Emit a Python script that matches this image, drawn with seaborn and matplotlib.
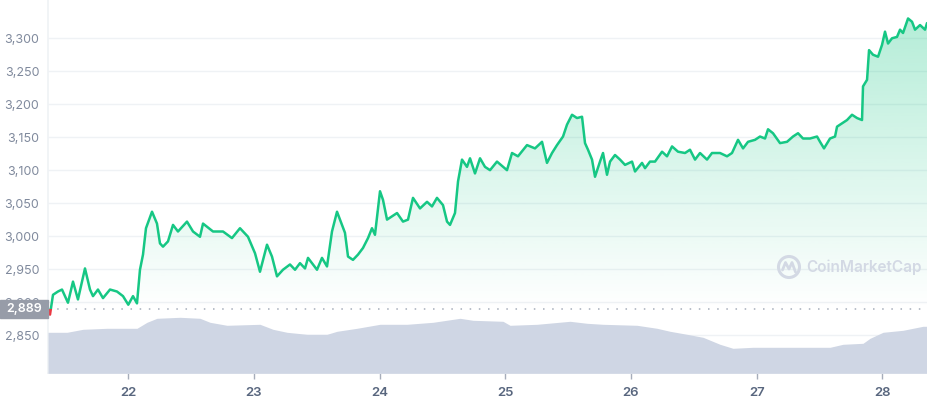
import numpy as np
import pandas as pd
import seaborn as sns
import matplotlib.pyplot as plt
from matplotlib.patches import Rectangle, Circle
from matplotlib.transforms import blended_transform_factory

# hours counted from 21 Mar 00:00, price in USD
hours = [8.72, 9.05, 9.62, 10.57, 11.34, 12.48, 13.44, 14.39, 15.73, 16.69, 17.26, 18.21,
         19.17, 20.51, 21.84, 22.99, 24.0, 24.9, 25.66, 26.23, 26.81, 27.38, 28.53, 29.48,
         30.05, 30.63, 31.58, 32.54, 33.49, 35.21, 36.36, 37.69, 38.27, 40.18, 42.09, 43.8,
         45.33, 46.86, 48.2, 49.15, 50.49, 51.44, 52.4, 53.54, 54.88, 55.84, 56.79, 57.75,
         58.32, 60.04, 60.99, 61.95, 62.9, 63.86, 64.43, 65.38, 65.96, 66.91, 67.87, 68.82,
         69.78, 70.54, 71.11, 72.07, 72.64, 73.41, 74.36, 75.32, 76.46, 77.42, 78.37, 79.71,
         81.05, 82.0, 82.95, 84.1, 84.87, 85.44, 86.39, 86.97, 87.73, 88.68, 89.26, 90.21,
         91.17, 92.12, 93.08, 94.41, 96.32, 97.28, 98.42, 100.14, 101.67, 103.01, 103.96,
         104.92, 105.87, 107.02, 107.78, 108.74, 109.69, 110.65, 111.22, 111.79, 112.56,
         113.13, 114.08, 114.66, 115.42, 116.0, 116.95, 117.91, 118.86, 120.2, 120.77,
         122.11, 122.68, 123.63, 124.59, 125.93, 126.88, 127.84, 128.98, 130.32, 131.27,
         132.23, 133.18, 134.52, 135.47, 137.0, 138.34, 139.29, 140.44, 141.4, 142.35,
         143.69, 144.64, 145.6, 146.17, 147.12, 148.46, 149.8, 150.94, 151.9, 152.85,
         154.19, 155.53, 156.1, 156.86, 158.01, 158.97, 159.35, 160.3, 161.26, 162.21,
         163.17, 164.12, 164.31, 165.08, 165.46, 166.22, 167.18, 167.94, 168.51, 169.09,
         169.85, 170.8, 171.38, 171.95, 172.91, 173.67, 174.24, 175.2, 176.15, 176.53]
price = [2889, 2881, 2911, 2916, 2919, 2899, 2931, 2904, 2951, 2919, 2909, 2919,
         2906, 2919, 2916, 2909, 2896, 2909, 2898, 2949, 2972, 3012, 3037, 3019,
         2989, 2984, 2992, 3017, 3007, 3022, 3007, 2999, 3019, 3007, 3007, 2997,
         3012, 2999, 2974, 2946, 2987, 2969, 2939, 2949, 2957, 2949, 2959, 2951,
         2967, 2949, 2967, 2954, 3007, 3037, 3025, 3005, 2969, 2964, 2972, 2982,
         2997, 3012, 3002, 3068, 3055, 3025, 3030, 3035, 3022, 3025, 3058, 3042,
         3052, 3045, 3058, 3047, 3022, 3017, 3035, 3083, 3116, 3105, 3118, 3095,
         3118, 3105, 3100, 3113, 3100, 3126, 3121, 3138, 3133, 3143, 3111,
         3126, 3138, 3151, 3169, 3184, 3179, 3181, 3141, 3131, 3116,
         3090, 3113, 3126, 3093, 3113, 3123, 3116, 3108, 3113, 3098,
         3111, 3103, 3113, 3113, 3128, 3121, 3136, 3128, 3126, 3131,
         3116, 3126, 3116, 3126, 3126, 3121, 3126, 3146, 3133, 3143,
         3146, 3151, 3148, 3162, 3156, 3141, 3143, 3151, 3156, 3148,
         3148, 3151, 3143, 3133, 3148, 3151, 3166, 3171, 3176, 3184,
         3179, 3176, 3227, 3237, 3282, 3275, 3272, 3290, 3310, 3292,
         3300, 3302, 3313, 3308, 3330, 3325, 3313, 3320, 3313, 3323]

# 24h volume, USD billions
vol_hours = [8.67, 12.3, 15.35, 19.93, 25.66, 27.57, 29.48, 33.87, 37.69, 39.6, 42.84,
             49.15, 51.63, 54.31, 58.13, 61.95, 63.86, 67.68, 72.07, 77.23, 82.19, 87.35,
             89.83, 95.56, 96.9, 102.06, 108.36, 111.6, 114.66, 121.15, 124.97, 127.46,
             130.7, 133.76, 137.0, 139.48, 143.3, 152.85, 158.01, 160.49, 164.31, 165.65,
             168.13, 171.95, 175.77, 176.72]
volume = [20.5, 20.5, 22.0, 22.5, 22.5, 25.5, 27.5, 28.0, 27.5, 25.5, 24.0,
          24.5, 22.0, 20.5, 19.5, 19.5, 21.0, 22.5, 24.5, 24.5, 25.5, 27.5,
          26.5, 26.0, 24.0, 24.5, 26.0, 25.0, 24.5, 24.0, 22.5, 21.0,
          19.5, 18.0, 14.5, 12.5, 13.0, 13.0, 13.0, 14.5, 15.0, 17.5,
          20.5, 21.5, 23.5, 23.5]

open_price = 2889
day_ticks = [24, 48, 72, 96, 120, 144, 168]
day_labels = ['22', '23', '24', '25', '26', '27', '28']
price_ticks = [2850, 2900, 2950, 3000, 3050, 3100, 3150, 3200, 3250, 3300]

green = '#16c784'
red = '#ea3943'
grey_txt = '#808a9d'
mark_col = '#d3d9e4'

sns.set_style('white')
plt.rcParams['font.family'] = ['Inter', 'DejaVu Sans']

df = pd.DataFrame({'hour': hours, 'price': price})
vol_df = pd.DataFrame({'hour': vol_hours, 'volume': volume})

fig = plt.figure(figsize=(9.28, 4.0), dpi=100)
ax = fig.add_axes([47.7 / 928, 26.7 / 400, 1 - 47.7 / 928, 1 - 26.7 / 400])
x0, x1 = 8.61, 176.72
y0, y1 = 2792, 3358
ax.set_xlim(x0, x1)
ax.set_ylim(y0, y1)

# gradient fill under the line
poly = ax.fill_between(df['hour'], df['price'], open_price, color='none', lw=0)
grad = np.zeros((256, 1, 4))
grad[:, 0, :3] = np.array([22, 199, 132]) / 255
ys = np.linspace(y1, y0, 256)
grad[:, 0, 3] = np.clip((ys - open_price) / (y1 - open_price), 0, 1) * 0.34
img = ax.imshow(grad, extent=[x0, x1, y0, y1], aspect='auto', zorder=1, origin='upper')
img.set_clip_path(poly.get_paths()[0], transform=ax.transData)

# line: green above opening price, red below
sns.lineplot(data=df, x='hour', y='price', ax=ax, color=green, lw=1.8, zorder=3)
green_line = ax.lines[-1]
green_line.set_clip_path(Rectangle((x0, open_price), x1 - x0, y1 - open_price, transform=ax.transData))
sns.lineplot(data=df, x='hour', y='price', ax=ax, color=red, lw=1.8, zorder=3)
red_line = ax.lines[-1]
red_line.set_clip_path(Rectangle((x0, y0), x1 - x0, open_price - y0, transform=ax.transData))

ax.axhline(open_price, color='#a6adba', lw=1.1, ls=(0, (1, 5)), zorder=2)

ax.set_yticks(price_ticks)
ax.set_yticklabels([f'{v:,}' for v in price_ticks])
ax.set_xticks(day_ticks)
ax.set_xticklabels(day_labels)
ax.set_xlabel('')
ax.set_ylabel('')
ax.grid(axis='y', color='#eff2f5', lw=1)
ax.tick_params(axis='y', length=0, pad=6, labelsize=9, labelcolor=grey_txt)
ax.tick_params(axis='x', length=4, width=1, color='#a6adba', pad=6, labelsize=9.5,
               labelcolor='#58667e', bottom=True)
for lbl in ax.get_xticklabels():
    lbl.set_fontweight('semibold')
for side in ['top', 'right']:
    ax.spines[side].set_visible(False)
for side in ['left', 'bottom']:
    ax.spines[side].set_color('#eff2f5')
    ax.spines[side].set_linewidth(1.2)

# volume area on its own scale
ax2 = ax.twinx()
ax2.fill_between(vol_df['hour'], vol_df['volume'], 0, color='#cfd6e4', lw=0)
ax2.set_ylim(0, 373.3 * 0.5)
ax2.set_yticks([])
for side in ax2.spines:
    ax2.spines[side].set_visible(False)

# opening price tag on the left
tf = blended_transform_factory(fig.transFigure, ax.transData)
ax.add_patch(Rectangle((0, 2876.0), 47.7 / 928, 27.5, transform=tf, color='#979ca8',
                       clip_on=False, zorder=6))
ax.text(24 / 928, 2889.8, '2,889', transform=tf, color='white', ha='center', va='center',
        fontsize=9, fontweight='semibold', zorder=7, clip_on=False)

# watermark
ax.text(0.927, 0.285, 'CoinMarketCap', transform=ax.transAxes, color=mark_col,
        fontsize=11, fontweight='semibold', ha='center', va='center', zorder=2)
inch = fig.dpi_scale_trans
cx, cy = 7.89, 1.33
ax.add_patch(Circle((cx, cy), 0.105, transform=inch, fill=False, ec=mark_col, lw=2.2,
                    clip_on=False, zorder=2))
ax.plot([cx - 0.065, cx - 0.035, cx, cx + 0.03, cx + 0.065],
        [cy - 0.03, cy + 0.045, cy - 0.02, cy + 0.045, cy - 0.05],
        transform=inch, color=mark_col, lw=2, clip_on=False, zorder=2)

fig.savefig('out.png', dpi=100)
